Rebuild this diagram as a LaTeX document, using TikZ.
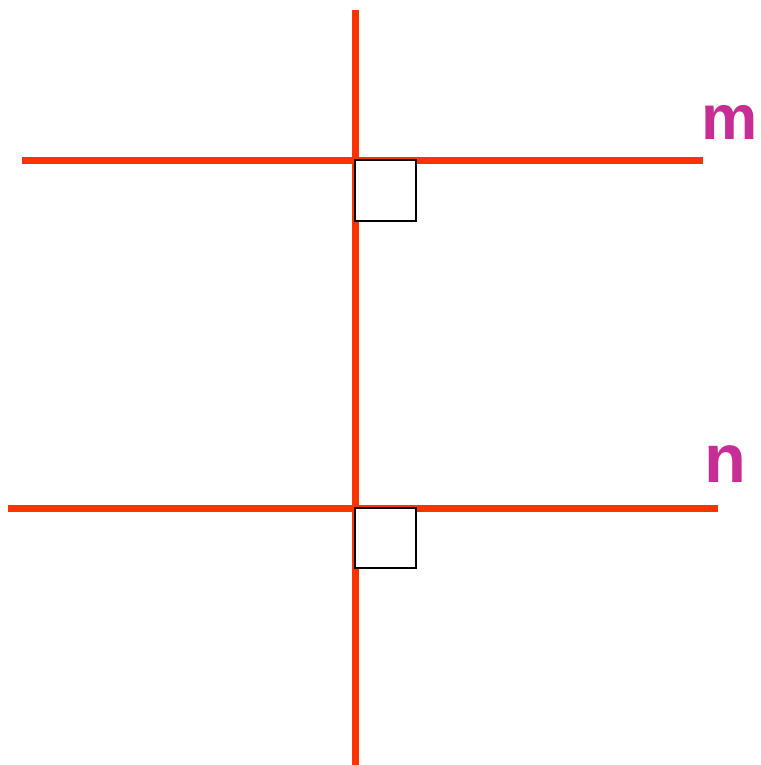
\documentclass[tikz,border=0pt]{standalone}
\usepackage{fontspec}
\setmainfont{Liberation Sans}
\usepackage{tikz}
\usetikzlibrary{positioning}
\definecolor{linered}{RGB}{255,51,0}
\definecolor{labelpink}{RGB}{200,45,150}

\begin{document}
\begin{tikzpicture}[x=0.02cm, y=-0.02cm,
  redline/.style={draw=linered, line width=0.14cm},
  rightbox/.style={draw=black, fill=white, line width=0.8pt},
  lbl/.style={text=labelpink, font=\fontsize{36}{40}\selectfont\bfseries, anchor=base, inner sep=0pt}]

\useasboundingbox (0,0) rectangle (761,765);

% transversale
\coordinate (ttop) at (355,10);
\coordinate (tbot) at (355,765);
\draw[redline] (ttop) -- (tbot);

% rette parallele
\coordinate (mleft) at (22,160);
\coordinate (mright) at (703,160);
\coordinate (nleft) at (8,508);
\coordinate (nright) at (718,508);
\draw[redline] (mleft) -- (mright);
\draw[redline] (nleft) -- (nright);

% angoli retti
\draw[rightbox] (355,160) rectangle (416,221);
\draw[rightbox] (355,508) rectangle (416,568);

\node[lbl] (m) at (729.5,139) {m};
\node[lbl, font=\fontsize{39}{43}\selectfont\bfseries] (n) at (725,482) {n};

\end{tikzpicture}
\end{document}
